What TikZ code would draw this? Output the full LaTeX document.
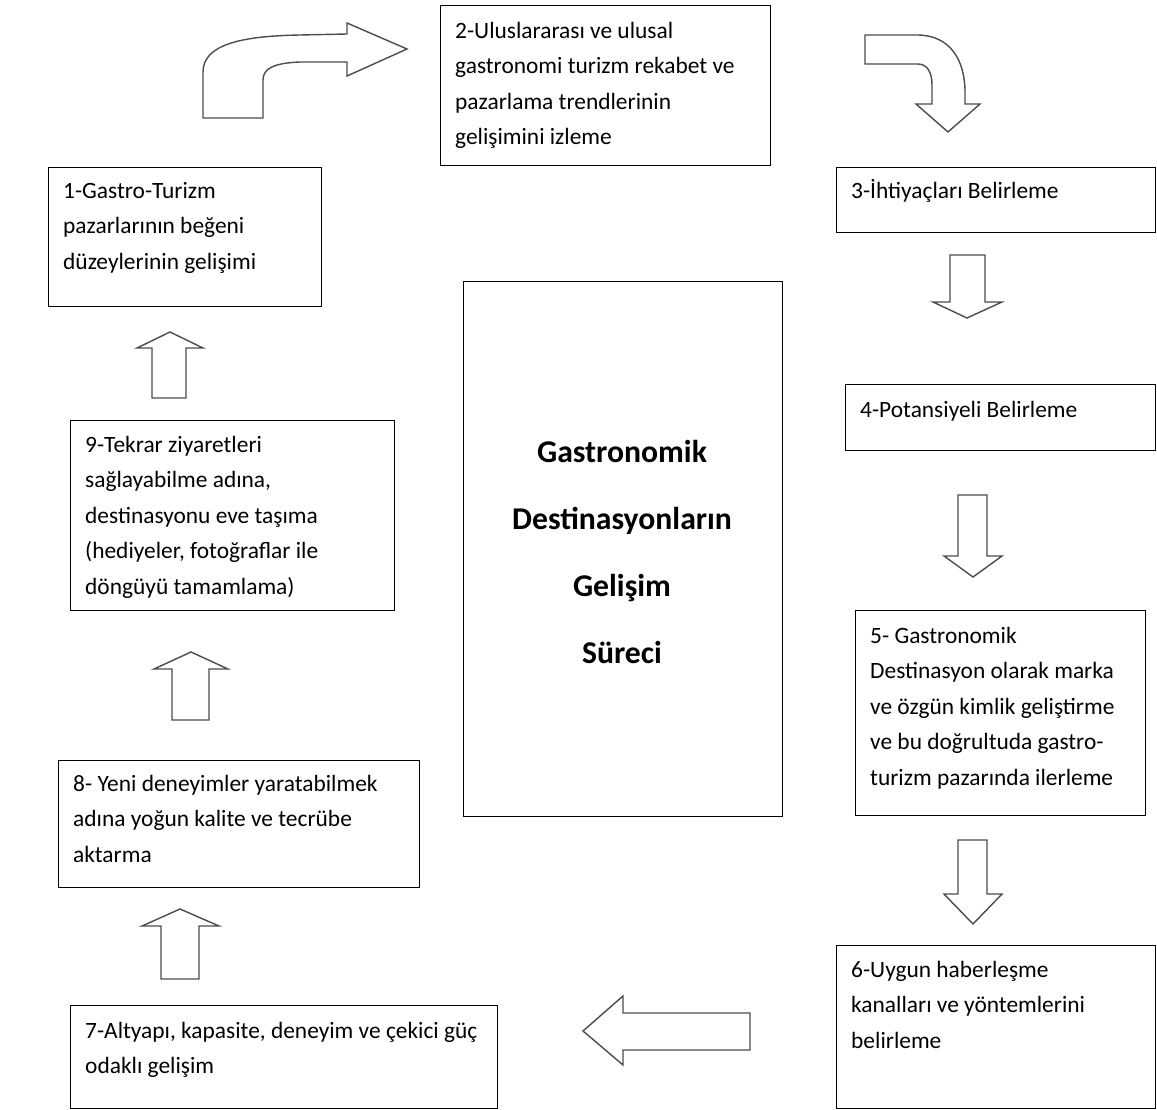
\documentclass[tikz,border=0pt]{standalone}
\usepackage{fontspec}
\setmainfont{Carlito}
\begin{document}
\begin{tikzpicture}[x=1pt,y=-1pt,
  box/.style={draw=black,line width=1.2pt,fill=white,anchor=north west,inner sep=0pt},
  txt/.style={anchor=north west,inner sep=0pt,align=left,font=\fontsize{23.4}{35.5}\selectfont},
  title/.style={inner sep=0pt,align=center,font=\fontsize{31.7}{67}\selectfont\bfseries},
  barrow/.style={draw=black!70,line width=1.4pt,fill=white,line join=miter}]
\useasboundingbox (0,0) rectangle (1157,1110);

% boxes
\node[box,minimum width=273pt,minimum height=139pt] (b1) at (48,167) {};
\node[box,minimum width=330pt,minimum height=160pt] (b2) at (440,5) {};
\node[box,minimum width=319pt,minimum height=65pt] (b3) at (836,167) {};
\node[box,minimum width=310pt,minimum height=66pt] (b4) at (845,384) {};
\node[box,minimum width=290pt,minimum height=205pt] (b5) at (855,610) {};
\node[box,minimum width=319pt,minimum height=163pt] (b6) at (836,945) {};
\node[box,minimum width=427pt,minimum height=103pt] (b7) at (70,1005) {};
\node[box,minimum width=361pt,minimum height=127pt] (b8) at (58,760) {};
\node[box,minimum width=324pt,minimum height=190pt] (b9) at (70,420) {};
\node[box,minimum width=319pt,minimum height=535pt] (bc) at (463,281) {};

% texts
\node[txt] (t1) at (63,173) {\strut 1-Gastro-Turizm\\ pazarlarının beğeni\\ düzeylerinin gelişimi};
\node[txt] (t2) at (455,13) {\strut 2-Uluslararası ve ulusal\\ gastronomi turizm rekabet ve\\ pazarlama trendlerinin\\ gelişimini izleme};
\node[txt] (t3) at (851,173) {\strut 3-İhtiyaçları Belirleme};
\node[txt] (t4) at (860,392) {\strut 4-Potansiyeli Belirleme};
\node[txt] (t5) at (870,618) {\strut 5- Gastronomik\\ Destinasyon olarak marka\\ ve özgün kimlik geliştirme\\ ve bu doğrultuda gastro-\\ turizm pazarında ilerleme};
\node[txt] (t6) at (851,952) {\strut 6-Uygun haberleşme\\ kanalları ve yöntemlerini\\ belirleme};
\node[txt] (t7) at (85,1013) {\strut 7-Altyapı, kapasite, deneyim ve çekici güç\\ odaklı gelişim};
\node[txt] (t8) at (73,766) {\strut 8- Yeni deneyimler yaratabilmek\\ adına yoğun kalite ve tecrübe\\ aktarma};
\node[txt] (t9) at (85,427) {\strut 9-Tekrar ziyaretleri\\ sağlayabilme adına,\\ destinasyonu eve taşıma\\ (hediyeler, fotoğraflar ile\\ döngüyü tamamlama)};
\node[title] (tc) at (622,552) {Gastronomik\\ Destinasyonların\\ Gelişim\\ Süreci};

% curved arrow 1 -> 2
\draw[barrow] (203,118) -- (203,72) .. controls (203,45) and (240,36) .. (300,35) -- (347,34)
  -- (347,23) -- (407,49) -- (347,76) -- (347,62) -- (300,62)
  .. controls (275,63) and (263,68) .. (263,80) -- (263,118) -- cycle;
% curved arrow 2 -> 3
\draw[barrow] (865,35) -- (917,35) .. controls (950,35) and (965,60) .. (965,92) -- (965,104)
  -- (980,104) -- (948,132) -- (916,104) -- (932,104) -- (932,85)
  .. controls (932,72) and (927,64) .. (918,64) -- (865,64) -- cycle;
% down arrows
\draw[barrow] (950,255) -- (985,255) -- (985,302) -- (1002,302) -- (967,318) -- (933,302) -- (950,302) -- cycle;
\draw[barrow] (958,495) -- (987,495) -- (987,556) -- (1002,556) -- (973,577) -- (944,556) -- (958,556) -- cycle;
\draw[barrow] (958,840) -- (987,840) -- (987,894) -- (1002,894) -- (973,924) -- (944,894) -- (958,894) -- cycle;
% left arrow
\draw[barrow] (750,1013) -- (750,1050) -- (623,1050) -- (623,1065) -- (583,1031) -- (623,996) -- (623,1013) -- cycle;
% up arrows
\draw[barrow] (161,979) -- (161,926) -- (142,926) -- (180,909) -- (219,926) -- (199,926) -- (199,979) -- cycle;
\draw[barrow] (172,720) -- (172,669) -- (154,669) -- (191,652) -- (228,669) -- (209,669) -- (209,720) -- cycle;
\draw[barrow] (152,398) -- (152,348) -- (137,348) -- (170,332) -- (203,348) -- (186,348) -- (186,398) -- cycle;
\end{tikzpicture}
\end{document}
